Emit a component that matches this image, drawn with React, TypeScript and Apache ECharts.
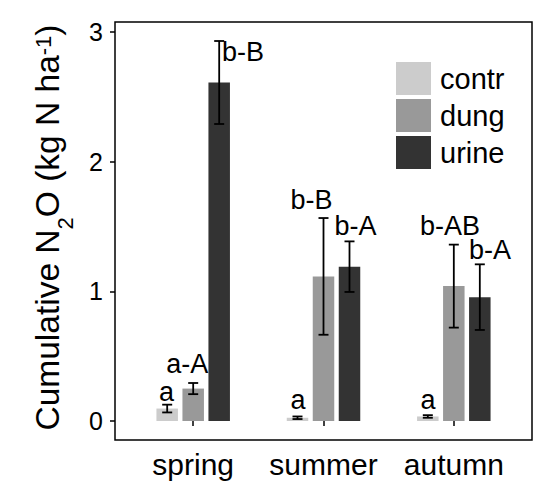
import React, { useEffect, useRef } from "react";
import * as echarts from "echarts";

// ---- data ----
const seasons = ["spring", "summer", "autumn"];
const treatments = ["contr", "dung", "urine"];
const contrMean = [0.096, 0.025, 0.035];
const contrErr = [0.03, 0.01, 0.01];
const dungMean = [0.25, 1.115, 1.04];
const dungErr = [0.043, 0.45, 0.32];
const urineMean = [2.61, 1.19, 0.955];
const urineErr = [0.32, 0.195, 0.253];
const yTicks = [0, 1, 2, 3];
const xTicks = [1, 2, 3];

// significance letters (annotation positions in data units)
const letterTexts = ["a", "a-A", "b-B", "a", "b-B", "b-A", "a", "b-AB", "b-A"];
const letterX = [0.795, 0.955, 1.382, 1.804, 1.908, 2.246, 2.802, 2.971, 3.278];
const letterY = [0.222, 0.437, 2.843, 0.16, 1.702, 1.502, 0.16, 1.5, 1.321];

// ---- styles ----
const COLORS = ["#cccccc", "#999999", "#333333"];
const FONT = "'Liberation Sans', Arial, sans-serif";
const BAR_W = 21.5;
const BAR_SPACE = 4.5;
const CAP = 5;

const means = [contrMean, dungMean, urineMean];
const errs = [contrErr, dungErr, urineErr];

export default function App() {
  const ref = useRef<HTMLDivElement>(null);

  useEffect(() => {
    if (!ref.current) return;
    const chart = echarts.init(ref.current, null, { renderer: "svg" });

    let top = 0;
    means.forEach((m, g) => m.forEach((v, i) => { top = Math.max(top, v + errs[g][i]); }));
    const expand = top * 0.05;

    const barSeries = treatments.map((t, g) => ({
      name: t,
      type: "bar",
      barWidth: BAR_W,
      barGap: (BAR_SPACE / BAR_W) * 100 + "%",
      itemStyle: { color: COLORS[g] },
      data: seasons.map((_, i) => [i + 1, means[g][i]]),
      z: 2,
    }));

    const errData: number[][] = [];
    treatments.forEach((_, g) =>
      seasons.forEach((__, i) => errData.push([i + 1, means[g][i], errs[g][i], g]))
    );

    const errSeries = {
      name: "err",
      type: "custom",
      z: 3,
      encode: { x: 0, y: 1 },
      data: errData,
      renderItem: (params: any, api: any) => {
        const x = api.value(0);
        const m = api.value(1);
        const e = api.value(2);
        const g = api.value(3);
        const off = (g - 1) * (BAR_W + BAR_SPACE);
        const pt = api.coord([x, m + e]);
        const pb = api.coord([x, m - e]);
        const cx = pt[0] + off;
        const st = { stroke: "#000", lineWidth: 1.8 };
        return {
          type: "group",
          children: [
            { type: "line", shape: { x1: cx, y1: pt[1], x2: cx, y2: pb[1] }, style: st },
            { type: "line", shape: { x1: cx - CAP, y1: pt[1], x2: cx + CAP, y2: pt[1] }, style: st },
            { type: "line", shape: { x1: cx - CAP, y1: pb[1], x2: cx + CAP, y2: pb[1] }, style: st },
          ],
        };
      },
    };

    const letterSeries = {
      name: "letters",
      type: "custom",
      z: 4,
      encode: { x: 0, y: 1 },
      data: letterX.map((x, i) => [x, letterY[i]]),
      renderItem: (params: any, api: any) => {
        const p = api.coord([api.value(0), api.value(1)]);
        return {
          type: "text",
          x: p[0],
          y: p[1],
          style: {
            text: letterTexts[params.dataIndex],
            fill: "#000",
            fontSize: 27,
            lineHeight: 20,
            fontFamily: FONT,
            align: "center",
            verticalAlign: "middle",
          },
        };
      },
    };

    chart.setOption({
      animation: false,
      grid: {
        left: 115,
        right: 18,
        top: 22,
        bottom: 52,
        show: true,
        borderColor: "#000",
        borderWidth: 1.5,
        backgroundColor: "#fff",
      },
      legend: {
        data: treatments,
        orient: "vertical",
        left: 391,
        top: 57,
        itemWidth: 35,
        itemHeight: 33,
        itemGap: 4,
        icon: "rect",
        textStyle: {
          fontSize: 29,
          fontFamily: FONT,
          color: "#000",
          lineHeight: 33,
          padding: [0, 0, 0, 4],
        },
      },
      xAxis: {
        type: "value",
        min: 0.4,
        max: seasons.length + 0.6,
        splitLine: { show: false },
        axisLine: { show: false },
        axisTick: {
          show: true,
          customValues: xTicks,
          length: 5,
          lineStyle: { color: "#000", width: 1.5 },
        },
        axisLabel: {
          customValues: xTicks,
          formatter: (v: number) => seasons[Math.round(v) - 1] ?? "",
          fontSize: 30,
          fontFamily: FONT,
          color: "#000",
          margin: 9,
        },
      },
      yAxis: {
        type: "value",
        min: -expand,
        max: top + expand,
        splitLine: { show: false },
        axisLine: { show: false },
        axisTick: {
          show: true,
          customValues: yTicks,
          length: 5,
          lineStyle: { color: "#000", width: 1.5 },
        },
        axisLabel: {
          customValues: yTicks,
          fontSize: 25,
          fontFamily: FONT,
          color: "#000",
          margin: 12,
          padding: [6, 0, 0, 0],
        },
        name: "Cumulative N{sub|2}O (kg N ha{sup|-1})",
        nameLocation: "middle",
        nameRotate: 90,
        nameGap: 40,
        nameTextStyle: {
          fontSize: 33.5,
          fontFamily: FONT,
          color: "#000",
          lineHeight: 56,
          padding: [0, 0, 0, 7],
          rich: {
            sub: {
              fontSize: 22,
              fontFamily: FONT,
              color: "#000",
              lineHeight: 20,
              height: 20,
              verticalAlign: "bottom",
            },
            sup: {
              fontSize: 22,
              fontFamily: FONT,
              color: "#000",
              lineHeight: 48,
              height: 48,
              verticalAlign: "top",
            },
          },
        },
      },
      series: [...barSeries, errSeries, letterSeries],
    });

    return () => chart.dispose();
  }, []);

  return (
    <div
      ref={ref}
      style={{ position: "fixed", left: 0, top: 0, width: 550, height: 492, background: "#fff" }}
    />
  );
}
